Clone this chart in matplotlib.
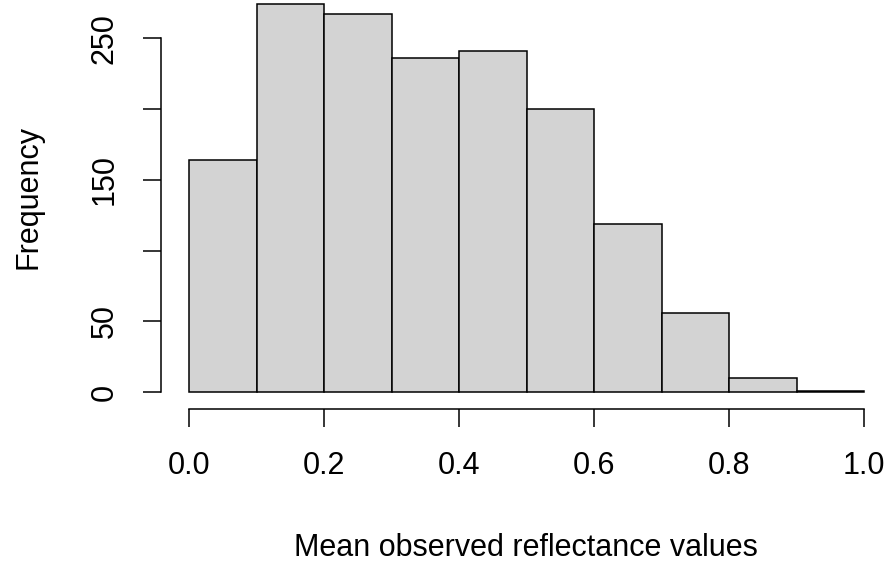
import matplotlib
matplotlib.use("Agg")
import matplotlib.pyplot as plt
import numpy as np

# histogram bins and counts
bin_edges = [0.0, 0.1, 0.2, 0.3, 0.4, 0.5, 0.6, 0.7, 0.8, 0.9, 1.0]
counts = [164, 274, 267, 236, 241, 200, 119, 56, 10, 1]
x_ticks = [0.0, 0.2, 0.4, 0.6, 0.8, 1.0]
y_ticks = [0, 50, 100, 150, 200, 250]
# 100 and 200 are left unlabelled (labels would overlap)
y_tick_labels = ["0", "50", "", "150", "", "250"]

plt.rcParams['font.family'] = ['Liberation Sans', 'DejaVu Sans']

W, H = 891, 565
fig = plt.figure(figsize=(W / 100, H / 100), dpi=100)

# axes box in pixels: left 161, right 891, top 0, bottom 409
ax = fig.add_axes([161 / W, (H - 409) / H, 730 / W, 409 / H])
ax.set_xlim(-0.0415, 1.04)
ax.set_ylim(-11.8, 277.0)

ax.bar(bin_edges[:-1], counts, width=0.1, align="edge",
       color="#D3D3D3", edgecolor="black", linewidth=1.1, clip_on=False)

for side in ["top", "right"]:
    ax.spines[side].set_visible(False)
ax.spines["left"].set_bounds(0, 250)
ax.spines["bottom"].set_bounds(0, 1)
ax.spines["left"].set_linewidth(1.1)
ax.spines["bottom"].set_linewidth(1.1)

ax.set_xticks(x_ticks)
ax.set_xticklabels([f"{v:.1f}" for v in x_ticks])
ax.set_yticks(y_ticks)
ax.set_yticklabels(y_tick_labels, rotation=90, va="center")
ax.tick_params(axis="both", length=13, width=1.1, labelsize=22, color="black")
ax.tick_params(axis="x", pad=17)
ax.tick_params(axis="y", pad=17)

fig.text(28 / W, 1 - 197 / H, "Frequency", rotation=90,
         ha="center", va="center", fontsize=22)
fig.text(526 / W, 1 - 548 / H, "Mean observed reflectance values",
         ha="center", va="center", fontsize=22)

fig.savefig("out.png", dpi=100)
plt.close(fig)
